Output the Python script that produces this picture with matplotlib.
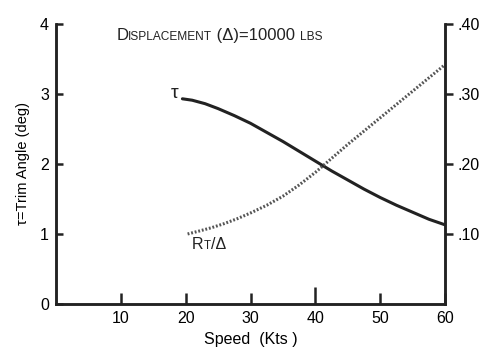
import matplotlib
matplotlib.use("Agg")
import matplotlib.pyplot as plt
from matplotlib.offsetbox import TextArea, HPacker, AnnotationBbox

plt.rcParams['font.family'] = ['Liberation Sans', 'DejaVu Sans']

speed_tau = [19.5, 21, 23, 25, 27.5, 30, 32.5, 35, 37.5, 40, 42.5, 45, 47.5, 50, 52.5, 55, 57.5, 60]
tau = [2.93, 2.91, 2.86, 2.79, 2.69, 2.58, 2.45, 2.32, 2.18, 2.04, 1.90, 1.77, 1.64, 1.52, 1.41, 1.31, 1.21, 1.13]

speed_r = [20.3, 22, 24, 26, 28, 30, 32.5, 35, 37.5, 40, 42.5, 45, 47.5, 50, 52.5, 55, 57.5, 60]
r_ratio = [0.100, 0.104, 0.109, 0.115, 0.122, 0.130, 0.141, 0.154, 0.170, 0.188, 0.208, 0.228, 0.247, 0.266, 0.285, 0.304, 0.323, 0.342]

x_ticks = [10, 20, 30, 40, 50, 60]
y_ticks = [0, 1, 2, 3, 4]
r_ticks = [0.10, 0.20, 0.30, 0.40]
r_labels = ['.10', '.20', '.30', '.40']

fig = plt.figure(figsize=(4.86, 3.56), dpi=100)
ax = fig.add_axes([0.115, 0.146, 0.801, 0.787])
ax2 = ax.twinx()

ax.plot(speed_tau, tau, color='#222222', lw=2.2, solid_capstyle='round')
ax2.plot(speed_r, r_ratio, color='#555555', lw=2.2, linestyle=(0, (0.6, 0.6)))

ax.set_xlim(0, 60)
ax.set_ylim(0, 4)
ax2.set_ylim(0, 0.4)

for a in (ax, ax2):
    a.spines['top'].set_visible(False)
    for s in a.spines.values():
        s.set_linewidth(1.8)
        s.set_color('#222222')

ax.set_xticks(x_ticks)
ax.set_yticks(y_ticks)
ax.tick_params(axis='x', direction='in', length=8, width=1.8, labelsize=11.5, pad=5, color='#222222')
ax.tick_params(axis='y', direction='in', length=5, width=1.8, labelsize=11.5, pad=5, color='#222222')
ax.xaxis.get_major_ticks()[3].tick1line.set_markersize(12)

ax2.set_yticks(r_ticks)
ax2.set_yticklabels(r_labels)
ax2.tick_params(axis='y', direction='out', length=6, width=1.8, labelsize=11.5, pad=3, color='#222222')

ax.set_xlabel('Speed  (Kts )', fontsize=11.5, labelpad=4)
ax.set_ylabel('τ=Trim Angle (deg)', fontsize=10.5, labelpad=7)

def smallcaps(parts):
    boxes = []
    for txt, size in parts:
        boxes.append(TextArea(txt, textprops=dict(fontsize=size, color='#222222')))
    return HPacker(children=boxes, align='baseline', pad=0, sep=0)

title = smallcaps([('D', 12), ('ISPLACEMENT', 8.6), (' (Δ)=10000 ', 12), ('LBS', 8.6)])
ab = AnnotationBbox(title, (0.42, 0.96), xycoords='axes fraction', frameon=False,
                    box_alignment=(0.5, 0.5))
ax.add_artist(ab)

ax.text(18.9, 3.0, 'τ', fontsize=14, ha='right', va='center', color='#222222')

rlab = smallcaps([('R', 11.5), ('T', 8.3), ('/Δ', 11.5)])
ab2 = AnnotationBbox(rlab, (21.0, 0.85), xycoords='data', frameon=False,
                     box_alignment=(0.0, 0.5))
ax.add_artist(ab2)

fig.savefig('out.png', dpi=100)
